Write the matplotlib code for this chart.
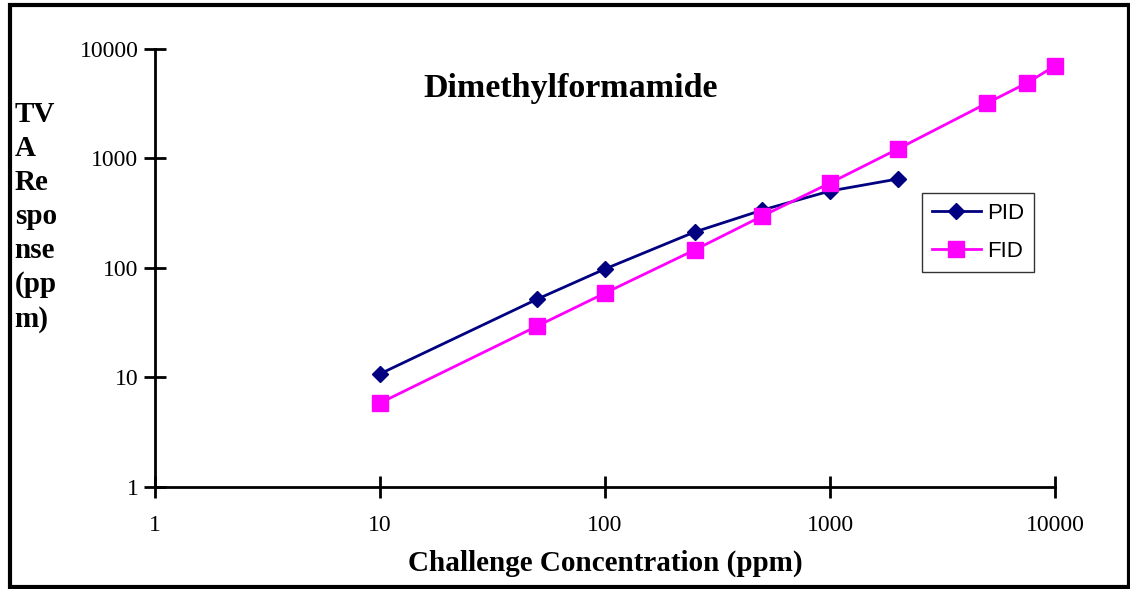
import matplotlib.pyplot as plt
from matplotlib.patches import Rectangle

# data
pid_x = [10, 50, 100, 250, 500, 1000, 2000]
pid_y = [10.8, 52, 98, 213, 338, 505, 650]
fid_x = [10, 50, 100, 250, 500, 1000, 2000, 5000, 7500, 10000]
fid_y = [5.85, 29.5, 59, 146, 298, 597, 1220, 3210, 4890, 7000]
ticks = [1, 10, 100, 1000, 10000]
tick_labels = ['1', '10', '100', '1000', '10000']
ylabel_lines = ['TV', 'A', 'Re', 'spo', 'nse', '(pp', 'm)']

plt.rcParams['font.family'] = 'Liberation Serif'

fig = plt.figure(figsize=(11.3, 5.89), dpi=100)
ax = fig.add_axes([0.1372, 0.1732, 0.7964, 0.7436])

ax.plot(pid_x, pid_y, color='#000080', marker='D', markersize=8, linewidth=2, label='PID',
        zorder=3, clip_on=False)
ax.plot(fid_x, fid_y, color='#FF00FF', marker='s', markersize=11, linewidth=2, label='FID',
        zorder=4, clip_on=False)

ax.set_xscale('log')
ax.set_yscale('log')
ax.set_xlim(1, 10000)
ax.set_ylim(1, 10000)
ax.set_xticks(ticks)
ax.set_xticklabels(tick_labels)
ax.set_yticks(ticks)
ax.set_yticklabels(tick_labels)
ax.minorticks_off()
ax.tick_params(direction='inout', length=16, width=2, labelsize=17, pad=4)
ax.tick_params(axis='x', pad=12)

for s in ['top', 'right']:
    ax.spines[s].set_visible(False)
for s in ['left', 'bottom']:
    ax.spines[s].set_linewidth(2)

ax.set_xlabel('Challenge Concentration (ppm)', fontsize=21, fontweight='bold', labelpad=10)
ax.text(0.462, 0.91, 'Dimethylformamide', transform=ax.transAxes, ha='center', va='center',
        fontsize=24.5, fontweight='bold')

for i, line in enumerate(ylabel_lines):
    fig.text(0.013, 1 - (114 + i * 34.2) / 589, line, fontsize=21, fontweight='bold', va='center', ha='left')

leg = ax.legend(loc='upper left', bbox_to_anchor=(0.852, 0.671), frameon=True, fancybox=False,
                edgecolor='black', prop={'family': 'Liberation Sans', 'size': 16},
                handlelength=2.2, handletextpad=0.3, borderpad=0.45, labelspacing=0.75, borderaxespad=0)
leg.get_frame().set_linewidth(1)

fig.patches.append(Rectangle((0.009, 0.004), 0.99, 0.988, transform=fig.transFigure,
                             fill=False, edgecolor='black', linewidth=3))

fig.savefig('out.png', dpi=100)
